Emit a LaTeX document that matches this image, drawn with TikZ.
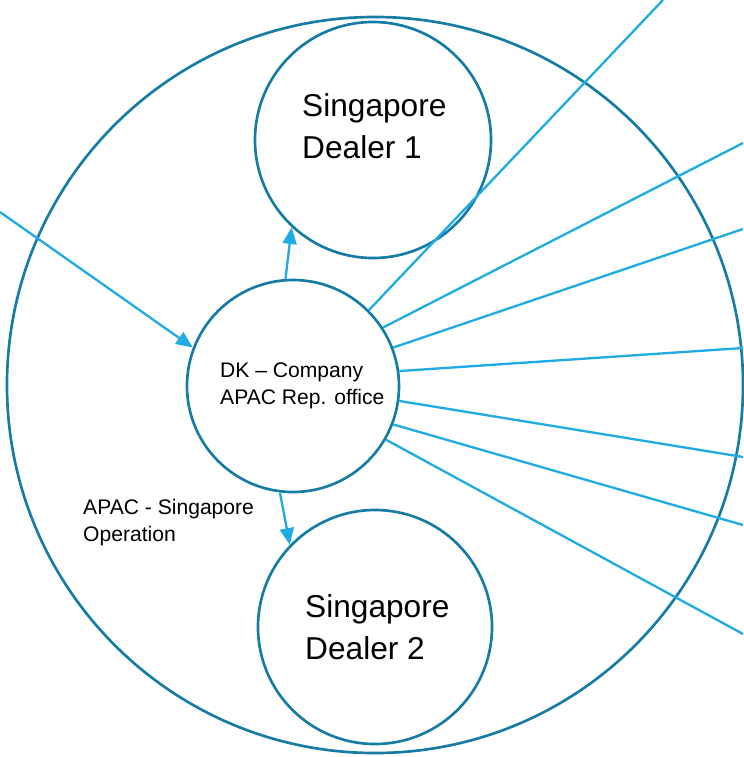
\documentclass[tikz,border=0pt]{standalone}
\usepackage{fontspec}
\setmainfont{Liberation Sans}
\usepackage{tikz}
\usetikzlibrary{positioning,arrows.meta,calc}
\definecolor{ringblue}{RGB}{22,124,164}
\definecolor{linkblue}{RGB}{32,172,226}

\begin{document}
\begin{tikzpicture}[x=0.03cm,y=-0.03cm,
    ring/.style={circle, draw=ringblue, line width=0.08cm, inner sep=0pt},
    link/.style={draw=linkblue, line width=0.07cm},
    arr/.style={link, -{Triangle[length=0.5cm,width=0.42cm]}},
    bigtxt/.style={font=\fontsize{27}{36}\selectfont, align=left, anchor=west, inner sep=0pt},
    smalltxt/.style={font=\fontsize{18}{23}\selectfont, align=left, anchor=west, inner sep=0pt}
  ]
  \useasboundingbox (0,0) rectangle (743,757);
  % circles
  \node[ring, minimum size=22.08cm] (region) at (375,385) {};
  \node[ring, minimum size=7.08cm] (dealerA) at (373,140) {};
  \node[ring, minimum size=6.36cm] (hub) at (293,386) {};
  \node[ring, minimum size=7.02cm] (dealerB) at (375,627) {};
  % texts
  \node[bigtxt] at (302,126) {Singapore\\Dealer 1};
  \node[bigtxt] at (305,627) {Singapore\\Dealer 2};
  \node[smalltxt] at (220,386) {DK -- Company\\APAC Rep. office};
  \node[smalltxt] at (83,523) {APAC - Singapore\\Operation};
  % outer ends
  \coordinate (src) at (0,212);
  \coordinate (out1) at (663,0);
  \coordinate (out2) at (743,143);
  \coordinate (out3) at (743,229);
  \coordinate (out4) at (743,348);
  \coordinate (out5) at (743,457);
  \coordinate (out6) at (743,525);
  \coordinate (out7) at (743,634);
  % connectors
  \draw[arr] (src) -- (hub.159);
  \draw[arr] (hub.94) -- (dealerA.227);
  \draw[arr] (hub.263) -- (dealerB.136);
  \foreach \a/\n in {45/1,33/2,21/3,8/4,-8/5,-21/6,-30/7}
    \draw[link] (hub.\a) -- (out\n);
\end{tikzpicture}
\end{document}
